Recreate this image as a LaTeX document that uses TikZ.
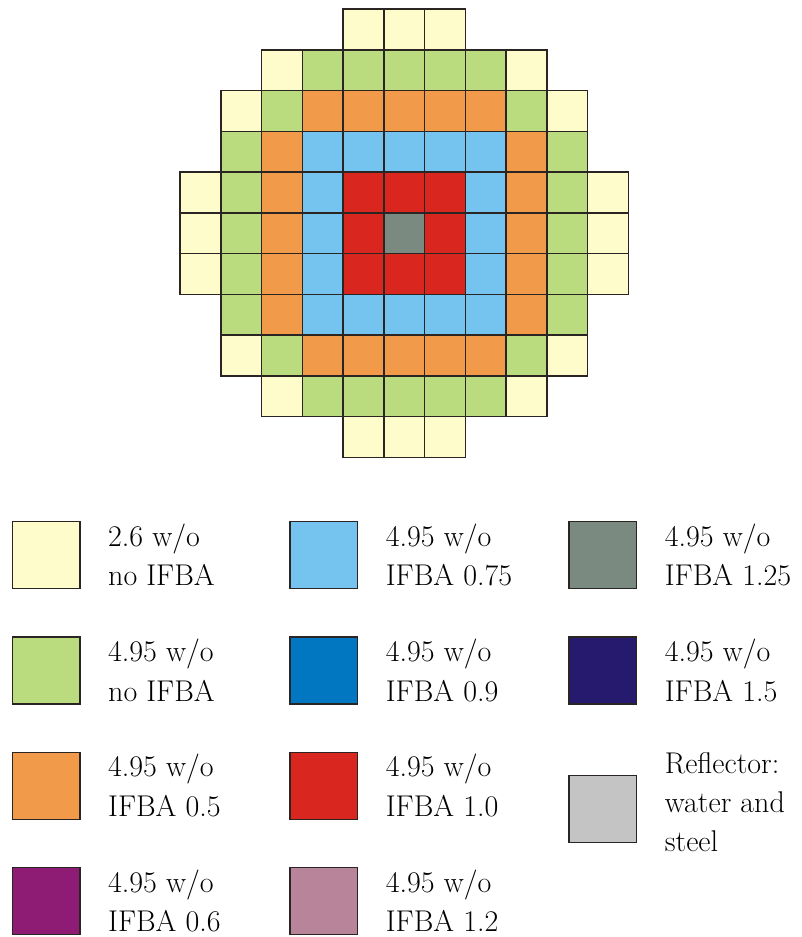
\documentclass[tikz,border=0pt]{standalone}
\usepackage{fontspec}
\definecolor{cY}{HTML}{FFFCCC}
\definecolor{cG}{HTML}{BBDC7E}
\definecolor{cO}{HTML}{F09A4A}
\definecolor{cB}{HTML}{74C4EF}
\definecolor{cR}{HTML}{D9261E}
\definecolor{cX}{HTML}{7A8A80}
\definecolor{cD}{HTML}{0077C0}
\definecolor{cN}{HTML}{261A6E}
\definecolor{cP}{HTML}{8E1C74}
\definecolor{cM}{HTML}{B88499}
\definecolor{cS}{HTML}{C4C4C4}
\definecolor{edge}{HTML}{2A2523}
\begin{document}
\begin{tikzpicture}[x=1pt,y=-1pt,
  cell/.style={draw=edge,line width=1.5pt,minimum size=40.75pt,inner sep=0pt,outer sep=0pt},
  legbox/.style={draw=edge,line width=1.5pt,minimum width=67.5pt,minimum height=67pt,inner sep=0pt,outer sep=0pt},
  legtext/.style={anchor=base west,inner sep=0pt,font=\rmfamily\fontsize{30}{40}\selectfont,text=black}]
\useasboundingbox (0,0) rectangle (802,937);
% core map
\foreach \r/\s/\cols in {
  0/4/{cY,cY,cY},
  1/2/{cY,cG,cG,cG,cG,cG,cY},
  2/1/{cY,cG,cO,cO,cO,cO,cO,cG,cY},
  3/1/{cG,cO,cB,cB,cB,cB,cB,cO,cG},
  4/0/{cY,cG,cO,cB,cR,cR,cR,cB,cO,cG,cY},
  5/0/{cY,cG,cO,cB,cR,cX,cR,cB,cO,cG,cY},
  6/0/{cY,cG,cO,cB,cR,cR,cR,cB,cO,cG,cY},
  7/1/{cG,cO,cB,cB,cB,cB,cB,cO,cG},
  8/1/{cY,cG,cO,cO,cO,cO,cO,cG,cY},
  9/2/{cY,cG,cG,cG,cG,cG,cY},
  10/4/{cY,cY,cY}}{
  \foreach \cl [count=\i from \s] in \cols {
    \node[cell,fill=\cl] (c\r-\i) at ({180+40.75*(\i+0.5)},{9+40.75*(\r+0.5)}) {};
  }
}
% legend
\foreach \n/\x/\y/\cl/\la/\lb in {
  a/12.3/521.7/cY/{2.6 w/o}/{no IFBA},
  b/12.3/637/cG/{4.95 w/o}/{no IFBA},
  c/12.3/752.3/cO/{4.95 w/o}/{IFBA 0.5},
  d/12.3/867.7/cP/{4.95 w/o}/{IFBA 0.6},
  e/290/521.7/cB/{4.95 w/o}/{IFBA 0.75},
  f/290/637/cD/{4.95 w/o}/{IFBA 0.9},
  g/290/752.3/cR/{4.95 w/o}/{IFBA 1.0},
  h/290/867.7/cM/{4.95 w/o}/{IFBA 1.2},
  i/569/521.7/cX/{4.95 w/o}/{IFBA 1.25},
  j/569/637/cN/{4.95 w/o}/{IFBA 1.5}}{
  \node[legbox,fill=\cl] (box\n) at ({\x+33.75},{\y+33.5}) {};
  \node[legtext] (txt\n1) at ({\x+95.7},{\y+24.5}) {\la};
  \node[legtext] (txt\n2) at ({\x+95.7},{\y+64}) {\lb};
}
\node[legbox,fill=cS] (boxk) at ({569+33.75},{775.7+33.5}) {};
\node[legtext] (txtk1) at (664.7,773) {Reflector:};
\node[legtext] (txtk2) at (664.7,812) {water and};
\node[legtext] (txtk3) at (664.7,851) {steel};
\end{tikzpicture}
\end{document}
